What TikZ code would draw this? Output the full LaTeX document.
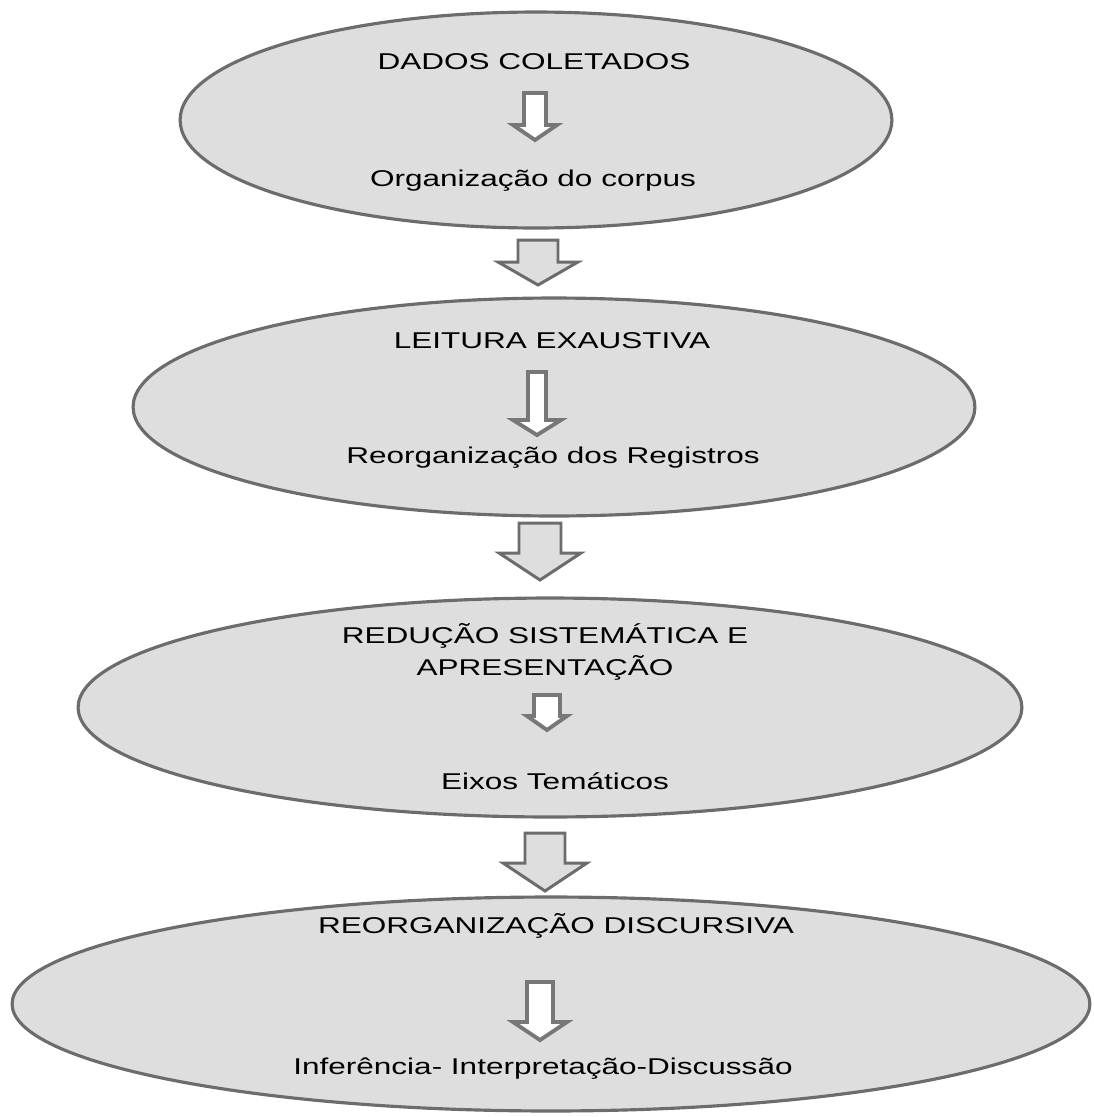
\documentclass[tikz,border=0pt]{standalone}
\usepackage{fontspec}
\newfontfamily\flowfont[FakeStretch=1.38]{Liberation Sans}
\usetikzlibrary{shapes.geometric}

\definecolor{stagefill}{HTML}{DEDEDE}
\definecolor{stageline}{HTML}{6C6C6C}
\definecolor{smallline}{HTML}{777777}

\tikzset{
  stage/.style={ellipse, draw=stageline, fill=stagefill, line width=1.8pt, inner sep=0pt},
  label/.style={font=\flowfont\fontsize{13}{18}\selectfont, text=black, inner sep=0pt, anchor=base},
  bigarrow/.style={draw=stageline, fill=stagefill, line width=1.7pt, line join=miter},
  smallarrow/.style={draw=smallline, fill=white, line width=2.2pt, line join=miter}
}

% #1 style, #2 x, #3 top, #4 half shaft, #5 half head, #6 head base, #7 tip
\newcommand{\downblock}[7]{%
  \draw[#1] (#2-#4,#3) -- (#2+#4,#3) -- (#2+#4,#6) -- (#2+#5,#6) -- (#2,#7)
    -- (#2-#5,#6) -- (#2-#4,#6) -- cycle;}

\begin{document}
\begin{tikzpicture}[x=0.02cm,y=-0.02cm]
            \useasboundingbox (0,0) rectangle (1094,1117);
            \node[stage, minimum width=14.24cm, minimum height=4.32cm] (e1) at (536,120) {};  %dados
            \node[stage, minimum width=16.84cm, minimum height=4.36cm] (e2) at (554,407) {};  %leitura
            \node[stage, minimum width=18.88cm, minimum height=4.38cm] (e3) at (550,707.5) {}; %reducao
            \node[stage, minimum width=21.56cm, minimum height=4.28cm] (e4) at (551,1004) {}; %discursiva
            \downblock{bigarrow}{538}{240}{20}{40}{262}{285}
            \downblock{bigarrow}{540}{523}{21}{41}{553}{580}
            \downblock{bigarrow}{545}{833}{20}{42}{863}{891}
            \downblock{smallarrow}{535}{93}{11}{22}{125}{140}
            \downblock{smallarrow}{537}{372}{9}{24}{420}{435}
            \downblock{smallarrow}{547}{695}{13}{20}{716}{730}
            \downblock{smallarrow}{540}{982}{13}{27}{1022}{1040}
            \node[label] (t1) at (534,69) {DADOS COLETADOS};
            \node[label] (s1) at (533,186) {Organização do corpus};
            \node[label] (t2) at (552,348) {LEITURA EXAUSTIVA};
            \node[label] (s2) at (553,463) {Reorganização dos Registros};
            \node[label, align=center] (t3) at (545,675) {REDUÇÃO SISTEMÁTICA E\\APRESENTAÇÃO};
            \node[label] (s3) at (555,789) {Eixos Temáticos};
            \node[label] (t4) at (556,933) {REORGANIZAÇÃO DISCURSIVA};
            \node[label] (s4) at (543,1074) {Inferência- Interpretação-Discussão};
            \end{tikzpicture}
\end{document}
